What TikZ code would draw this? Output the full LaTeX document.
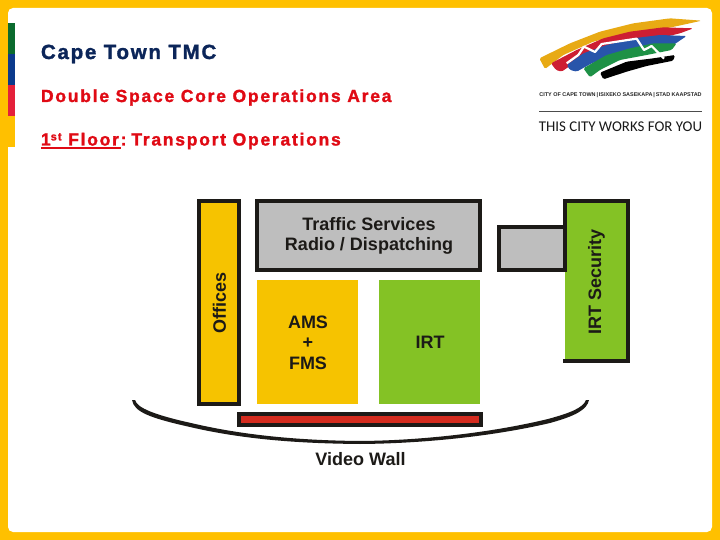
\documentclass[tikz,border=0pt]{standalone}
\usepackage{fontspec}
\setmainfont{Liberation Sans}
\newfontface\titleface[LetterSpace=8.5,FakeBold=1.5]{Liberation Sans Bold}
\newfontface\subface[LetterSpace=10,FakeBold=1.5]{Liberation Sans Bold}
\newfontfamily\logofont{Carlito}
\definecolor{bandyellow}{HTML}{FFC000}
\definecolor{stripgreen}{HTML}{0B6B2E}
\definecolor{stripblue}{HTML}{0B3A8C}
\definecolor{stripred}{HTML}{E4203A}
\definecolor{navytext}{HTML}{0B2559}
\definecolor{redtext}{HTML}{E00A14}
\definecolor{inkdark}{HTML}{1C1A17}
\definecolor{roomgrey}{HTML}{BEBEBE}
\definecolor{roomyellow}{HTML}{F6C300}
\definecolor{roomgreen}{HTML}{84C225}
\definecolor{wallred}{HTML}{D42B1E}
\definecolor{logoyellow}{HTML}{E8AA14}
\definecolor{logored}{HTML}{CD1E32}
\definecolor{logoblue}{HTML}{2855AA}
\definecolor{logogreen}{HTML}{1E9146}
\tikzset{
  x=1pt,y=-1pt,
  room/.style={draw=inkdark,line width=4pt,inner sep=0pt,outer sep=0pt,minimum width=0pt},
  plain/.style={inner sep=0pt,outer sep=0pt},
  label/.style={plain,text=inkdark,font=\bfseries\fontsize{18}{20}\selectfont,align=center},
  head/.style={plain,anchor=base west},
  swoosh/.style={rounded corners=1.5pt},
}
\begin{document}
\begin{tikzpicture}
\useasboundingbox (0,0) rectangle (720,540);
% frame
\fill[bandyellow] (0,0) rectangle (720,540);
\fill[white,rounded corners=5pt] (8,8) rectangle (712,532);
% side strip
\fill[stripgreen] (8,23) rectangle (15,54);
\fill[stripblue] (8,54) rectangle (15,85);
\fill[stripred] (8,85) rectangle (15,116);
\fill[bandyellow] (8,116) rectangle (15,147);
% headings
\node[head,text=navytext,font=\titleface\fontsize{20.5}{22}\selectfont] (title) at (41,59) {Cape Town TMC};
\node[head,text=redtext,font=\subface\fontsize{17.5}{19}\selectfont] (sub) at (41,102) {Double Space Core Operations Area};
\node[head,text=redtext,font=\subface\fontsize{17.5}{19}\selectfont] (floor) at (41,145.5) {1\raisebox{0.55ex}{\fontsize{11}{11}\selectfont st} Floor:\hspace{-4pt} Transport Operations};
\fill[redtext] (41,146.8) rectangle (121,148.6);
% logo
\begin{scope}[shift={(520,0)},x=0.3333pt,y=-0.3333pt]
\fill[swoosh,logoyellow] (58,175)--(150,130)--(240,95)--(340,70)--(450,55)--(545,62)--(500,72)--(440,85)--(320,100)--(220,125)--(130,165)--(75,207)--cycle;
\fill[swoosh,logored] (93,190)--(170,150)--(250,115)--(330,95)--(430,82)--(520,85)--(480,100)--(430,112)--(340,125)--(250,150)--(175,180)--(125,215)--(108,210)--cycle;
\fill[swoosh,logoblue] (140,195)--(190,160)--(260,135)--(340,115)--(420,105)--(500,108)--(460,135)--(380,145)--(290,165)--(215,190)--(170,215)--(150,210)--cycle;
\fill[swoosh,logogreen] (190,205)--(260,165)--(330,145)--(400,130)--(470,130)--(455,150)--(380,165)--(300,180)--(240,210)--(210,232)--cycle;
\fill[swoosh,black] (240,218)--(320,185)--(400,175)--(465,165)--(460,182)--(380,198)--(320,215)--(250,238)--cycle;
\draw[white,line width=2.2pt,line join=round] (140,190)--(175,165)--(192,140)--(225,156)--(245,132)--(350,116)--(372,150)--(395,138)--(432,176);
\end{scope}
\node[plain,text=black!85,font=\bfseries\fontsize{5.45}{6}\selectfont] (logotop) at (620.5,95) {CITY OF CAPE TOWN\,|\,ISIXEKO SASEKAPA\,|\,STAD KAAPSTAD};
\coordinate (ruleL) at (539,111);
\coordinate (ruleR) at (702,111);
\draw[black!70,line width=0.8pt] (ruleL) -- (ruleR);
\node[plain,text=black!90,font=\logofont\fontsize{14.9}{16}\selectfont] (slogan) at (620.5,127) {THIS CITY WORKS FOR YOU};
% rooms
\node[room,fill=roomyellow,minimum width=40pt,minimum height=203pt] (offices) at (219,302.5) {};
\node[label,rotate=90] (officesT) at (219.5,302.5) {Offices};
\node[room,fill=roomgrey,minimum width=223pt,minimum height=69pt] (traffic) at (368.5,235.5) {};
\node[label] (trafficT) at (369,236) {Traffic Services\\Radio / Dispatching};
\node[plain,fill=roomyellow,minimum width=101pt,minimum height=124pt] (ams) at (307.5,342) {};
\node[label,align=center,font=\bfseries\fontsize{18}{20.5}\selectfont] (amsT) at (308,342.5) {AMS\\+\\FMS};
\node[plain,fill=roomgreen,minimum width=101pt,minimum height=124pt] (irt) at (429.5,342) {};
\node[label] (irtT) at (430,342) {IRT};
% IRT Security, open on the left below the annex
\fill[roomgreen] (565,201) rectangle (628,361);
\draw[inkdark,line width=4pt] (565,272)--(565,201)--(628,201)--(628,361)--(563,361);
\node[room,fill=roomgrey,minimum width=66pt,minimum height=43pt] (annex) at (532,248.5) {};
\draw[inkdark,line width=4pt] (565,201)--(565,272);
\node[label,rotate=90] (securT) at (596.5,282) {IRT Security};
% video wall
\node[room,fill=wallred,minimum width=242pt,minimum height=11pt] (wall) at (360,419.5) {};
\node[label,font=\bfseries\fontsize{18}{20}\selectfont] (wallT) at (360.5,459) {Video Wall};
% curved wall
\coordinate (arcL) at (132,400);
\coordinate (arcR) at (589,400);
\fill[inkdark] (arcL) .. controls (134,412) and (150,418) .. (190,427)
  .. controls (250,441) and (310,443.5) .. (360,444)
  .. controls (420,443.5) and (490,437) .. (550,423)
  .. controls (575,416) and (587,410) .. (arcR)
  -- (586,400)
  .. controls (583,408) and (570,413) .. (548,419)
  .. controls (490,433) and (420,440.5) .. (360,441)
  .. controls (310,440.5) and (250,437) .. (191,423)
  .. controls (155,415) and (137,408) .. (135,400) -- cycle;
\end{tikzpicture}
\end{document}
